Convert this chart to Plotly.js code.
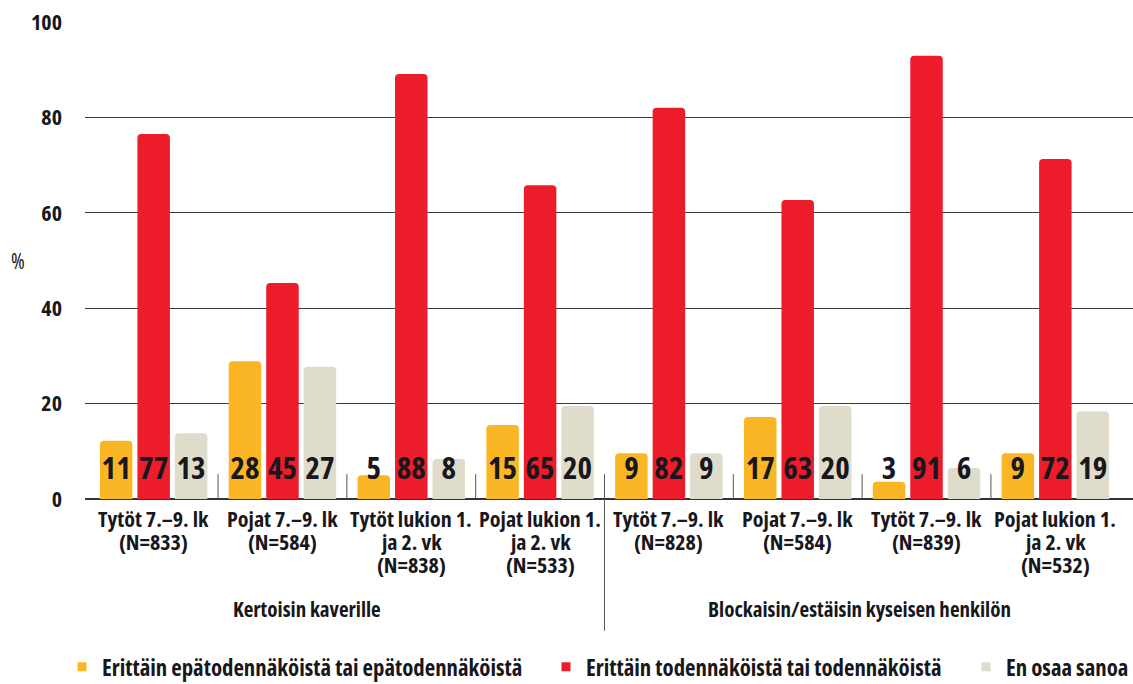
<!DOCTYPE html>
<html>
<head>
<meta charset="utf-8">
<script src="https://cdn.plot.ly/plotly-3.0.1.min.js"></script>
<style>
  html, body { margin: 0; padding: 0; background: #fff; }
  #chart { width: 1133px; height: 684px; }
  /* condensed face of Open Sans, applied to every svg text (also Plotly's measuring node) */
  text { font-stretch: 75%; }
</style>
</head>
<body>
<div id="chart"></div>
<script>
var groups = [
	['Tytöt 7.–9. lk', '(N=833)'],
	['Pojat 7.–9. lk', '(N=584)'],
	['Tytöt lukion 1.', 'ja 2. vk', '(N=838)'],
	['Pojat lukion 1.', 'ja 2. vk', '(N=533)'],
	['Tytöt 7.–9. lk', '(N=828)'],
	['Pojat 7.–9. lk', '(N=584)'],
	['Tytöt 7.–9. lk', '(N=839)'],
	['Pojat lukion 1.', 'ja 2. vk', '(N=532)']
];
var sections = ['Kertoisin kaverille', 'Blockaisin/estäisin kyseisen henkilön'];
var seriesNames = [
	'Erittäin epätodennäköistä tai epätodennäköistä',
	'Erittäin todennäköistä tai todennäköistä',
	'En osaa sanoa'
];

// bar heights as drawn
var unlikely = [12.2, 28.9, 5.0, 15.5, 9.6, 17.2, 3.6, 9.6];
var likely   = [76.5, 45.3, 89.1, 65.8, 82.0, 62.7, 92.9, 71.3];
var unsure   = [13.8, 27.7, 8.4, 19.5, 9.6, 19.5, 6.5, 18.4];

// printed labels
var unlikelyLbl = [11, 28, 5, 15, 9, 17, 3, 9];
var likelyLbl   = [77, 45, 88, 65, 82, 63, 91, 72];
var unsureLbl   = [13, 27, 8, 20, 9, 20, 6, 19];

var colors = ['#FBB626', '#ED1C2B', '#DFDCCB'];
var FONT = '"Open Sans", "Roboto", sans-serif';
var INK = '#17171c';

var bargap = 0.127;
var labelRow = 5.9;

var xs = groups.map(function(g, i) { return i; });
var values = [unlikely, likely, unsure];
var labels = [unlikelyLbl, likelyLbl, unsureLbl];

var data = [];
for (var k = 0; k < 3; k++) {
	data.push({
		type: 'bar',
		name: seriesNames[k],
		x: xs,
		y: values[k],
		marker: { color: colors[k], cornerradius: 4 },
		showlegend: false,
		hoverinfo: 'y'
	});
}
var slot = (1 - bargap) / 3;
for (var k = 0; k < 3; k++) {
	data.push({
		type: 'scatter',
		mode: 'text',
		x: xs.map(function(x) { return x + (k - 1) * slot; }),
		y: xs.map(function() { return labelRow; }),
		text: labels[k].map(String),
		textposition: 'middle center',
		textfont: { family: FONT, size: 31, color: INK, weight: 'bold' },
		showlegend: false,
		hoverinfo: 'skip'
	});
}
// legend entries (small squares), one legend each so they sit where the original has them
var legendIds = ['legend', 'legend2', 'legend3'];
for (var k = 0; k < 3; k++) {
	data.push({
		type: 'scatter',
		mode: 'markers',
		name: seriesNames[k],
		x: [null],
		y: [null],
		marker: { color: colors[k], symbol: 'square', size: 9 },
		legend: legendIds[k],
		showlegend: true
	});
}

// group separators
var shapes = [];
for (var i = -1; i < groups.length - 1; i++) {
	var isSection = (i === 3);
	shapes.push({
		type: 'line', xref: 'x', yref: 'paper',
		x0: i === -1 ? -0.545 : i + 0.5, x1: i === -1 ? -0.545 : i + 0.5,
		y0: 0.052, y1: isSection ? -0.276 : 0,
		line: { color: '#555', width: 1 }
	});
}

var annotations = [
	{
		text: '%', xref: 'paper', yref: 'paper', x: 0, y: 0.5,
		xshift: -76, showarrow: false,
		font: { family: FONT, size: 21, color: INK }
	}
];
var sectionAt = [1.19, 5.48];
sections.forEach(function(s, j) {
	annotations.push({
		text: s, xref: 'x', yref: 'paper', x: sectionAt[j], y: 0,
		yanchor: 'middle', yshift: -110, showarrow: false,
		font: { family: FONT, size: 21, color: INK, weight: 'bold' }
	});
});
// category labels, one line each to keep the tight line spacing of the original
var lineShift = [-19, -42, -65];
groups.forEach(function(lines, i) {
	lines.forEach(function(line, j) {
		annotations.push({
			text: line, xref: 'x', yref: 'paper', x: i, y: 0,
			yanchor: 'middle', yshift: lineShift[j], showarrow: false,
			font: { family: FONT, size: 22, color: INK, weight: 'bold' }
		});
	});
});

var legendBase = {
	orientation: 'h',
	xref: 'container', yref: 'container',
	y: 0.0249, xanchor: 'left', yanchor: 'middle',
	bgcolor: 'rgba(0,0,0,0)',
	font: { family: FONT, size: 22.8, color: INK, weight: 'bold' }
};
function legendAt(px) {
	return Object.assign({}, legendBase, { x: px / 1133 });
}

var layout = {
	width: 1133,
	height: 684,
	margin: { l: 85, r: 0, t: 22, b: 185 },
	paper_bgcolor: '#fff',
	plot_bgcolor: '#fff',
	barmode: 'group',
	bargap: bargap,
	bargroupgap: 0.133,
	font: { family: FONT, color: INK },
	xaxis: {
		range: [-0.533, 7.603],
		showticklabels: false,
		showgrid: false,
		zeroline: false,
		ticks: ''
	},
	yaxis: {
		range: [0, 100],
		tickvals: [0, 20, 40, 60, 80, 100],
		showgrid: true,
		gridcolor: '#3c3c3c',
		gridwidth: 1.3,
		zeroline: true,
		zerolinecolor: '#333',
		zerolinewidth: 1.5,
		ticks: '',
		ticklabelstandoff: 22,
		tickfont: { family: FONT, size: 22, color: INK, weight: 'bold' }
	},
	showlegend: true,
	legend: legendAt(62),
	legend2: legendAt(546),
	legend3: legendAt(966),
	shapes: shapes,
	annotations: annotations
};

Plotly.newPlot('chart', data, layout, { displayModeBar: false, staticPlot: true });
</script>
</body>
</html>
